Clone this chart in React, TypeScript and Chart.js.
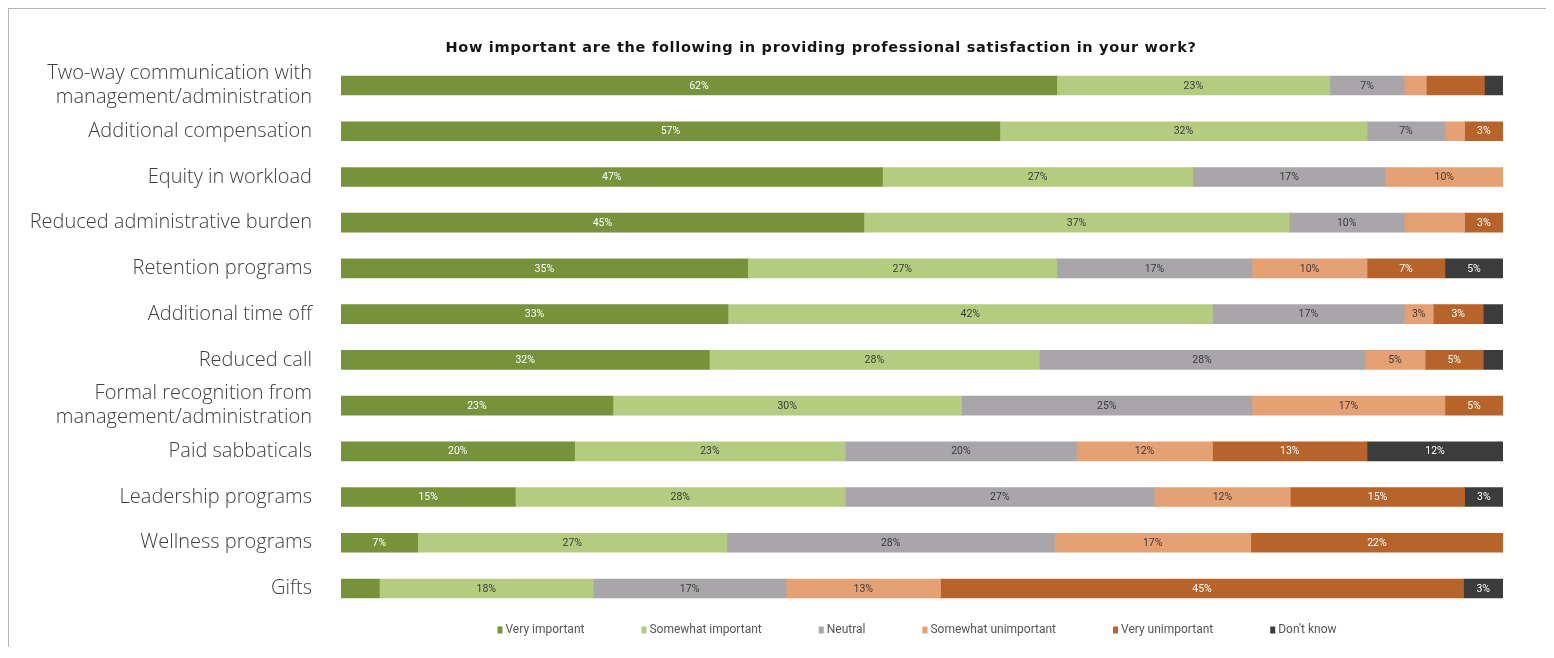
import React, { useEffect, useRef } from "react";
import { Chart, registerables } from "chart.js";

Chart.register(...registerables);

const chartTitle =
  "How important are the following in providing professional satisfaction in your work?";

const categories: (string | string[])[] = [
  ["Two-way communication with", "management/administration"],
  "Additional compensation",
  "Equity in workload",
  "Reduced administrative burden",
  "Retention programs",
  "Additional time off",
  "Reduced call",
  ["Formal recognition from", "management/administration"],
  "Paid sabbaticals",
  "Leadership programs",
  "Wellness programs",
  "Gifts",
];

const seriesNames = [
  "Very important",
  "Somewhat important",
  "Neutral",
  "Somewhat unimportant",
  "Very unimportant",
  "Don't know",
];

const seriesColors = ["#76933c", "#b4cc80", "#a8a6a9", "#e5a174", "#b6642b", "#3c3c3c"];
const labelColors = ["#ffffff", "#3a3a3a", "#3a3a3a", "#3a3a3a", "#ffffff", "#ffffff"];

// Bar widths (share of respondents, %)
const veryImportant = [61.6, 56.7, 46.6, 45.0, 35.0, 33.3, 31.7, 23.4, 20.1, 15.0, 6.6, 3.3];
const somewhatImportant = [23.5, 31.6, 26.7, 36.6, 26.6, 41.7, 28.4, 30.0, 23.3, 28.4, 26.6, 18.4];
const neutral = [6.4, 6.7, 16.6, 9.9, 16.8, 16.5, 28.0, 25.0, 19.9, 26.6, 28.2, 16.6];
const somewhatUnimportant = [1.9, 1.7, 10.1, 5.2, 9.9, 2.5, 5.2, 16.6, 11.7, 11.7, 16.9, 13.3];
const veryUnimportant = [5.0, 3.3, 0, 3.3, 6.7, 4.3, 5.0, 5.0, 13.3, 15.0, 21.7, 45.0];
const dontKnow = [1.7, 0, 0, 0, 5.0, 1.7, 1.7, 0, 11.7, 3.3, 0, 3.4];

// Printed labels as they appear on the bars ("" = no label)
const veryImportantLabels = ["62", "57", "47", "45", "35", "33", "32", "23", "20", "15", "7", ""];
const somewhatImportantLabels = ["23", "32", "27", "37", "27", "42", "28", "30", "23", "28", "27", "18"];
const neutralLabels = ["7", "7", "17", "10", "17", "17", "28", "25", "20", "27", "28", "17"];
const somewhatUnimportantLabels = ["", "", "10", "", "10", "3", "5", "17", "12", "12", "17", "13"];
const veryUnimportantLabels = ["", "3", "", "3", "7", "3", "5", "5", "13", "15", "22", "45"];
const dontKnowLabels = ["", "", "", "", "5", "", "", "", "12", "3", "", "3"];

const seriesValues = [veryImportant, somewhatImportant, neutral, somewhatUnimportant, veryUnimportant, dontKnow];
const seriesLabels = [
  veryImportantLabels,
  somewhatImportantLabels,
  neutralLabels,
  somewhatUnimportantLabels,
  veryUnimportantLabels,
  dontKnowLabels,
];

const barLabelPlugin = {
  id: "barLabels",
  afterDatasetsDraw(chart: any) {
    const ctx = chart.ctx;
    ctx.save();
    ctx.font = '10.5px "Roboto", sans-serif';
    ctx.textAlign = "center";
    ctx.textBaseline = "middle";
    chart.data.datasets.forEach((ds: any, i: number) => {
      const meta = chart.getDatasetMeta(i);
      meta.data.forEach((bar: any, j: number) => {
        const txt = ds.pctLabels[j];
        if (!txt) return;
        const p = bar.getProps(["x", "y", "base"], true);
        ctx.fillStyle = ds.labelColor;
        ctx.fillText(txt + "%", (p.x + p.base) / 2, p.y + 0.5);
      });
    });
    ctx.restore();
  },
};

const titlePlugin = {
  id: "customTitle",
  afterDraw(chart: any) {
    const ctx = chart.ctx;
    ctx.save();
    ctx.font = 'bold 14.5px "DejaVu Sans", sans-serif';
    (ctx as any).letterSpacing = "0.7px";
    ctx.fillStyle = "#151515";
    ctx.textAlign = "center";
    ctx.textBaseline = "middle";
    ctx.fillText(chartTitle, 812, 39);
    ctx.restore();
  },
};

const legendPlugin = {
  id: "customLegend",
  afterDraw(chart: any) {
    const ctx = chart.ctx;
    const area = chart.chartArea;
    ctx.save();
    ctx.font = '12px "Roboto", sans-serif';
    ctx.textBaseline = "middle";
    const boxW = 5;
    const boxH = 7;
    const boxGap = 3;
    const itemGap = 57;
    const items = chart.data.datasets.map((ds: any) => ({
      text: ds.label,
      color: ds.backgroundColor,
      w: boxW + boxGap + ctx.measureText(ds.label).width,
    }));
    const total = items.reduce((s: number, it: any) => s + it.w, 0) + itemGap * (items.length - 1);
    let x = (area.left + area.right) / 2 - 5 - total / 2;
    const y = 621;
    items.forEach((it: any) => {
      ctx.fillStyle = it.color;
      ctx.fillRect(x, y - boxH / 2, boxW, boxH);
      ctx.fillStyle = "#555555";
      ctx.textAlign = "left";
      ctx.fillText(it.text, x + boxW + boxGap, y);
      x += it.w + itemGap;
    });
    ctx.restore();
  },
};

export default function App() {
  const canvasRef = useRef<HTMLCanvasElement | null>(null);

  useEffect(() => {
    if (!canvasRef.current) return;
    const chart = new Chart(canvasRef.current, {
      type: "bar",
      data: {
        labels: categories,
        datasets: seriesNames.map((name, i) => ({
          label: name,
          data: seriesValues[i],
          backgroundColor: seriesColors[i],
          borderWidth: 0,
          barThickness: 19,
          pctLabels: seriesLabels[i],
          labelColor: labelColors[i],
        })) as any,
      },
      options: {
        indexAxis: "y",
        responsive: false,
        maintainAspectRatio: false,
        animation: false,
        layout: { padding: { top: 53.65, bottom: 35.65, left: 0, right: 44 } },
        scales: {
          x: { stacked: true, min: 0, max: 100, display: false },
          y: {
            stacked: true,
            grid: { display: false, drawTicks: false },
            border: { display: false },
            ticks: {
              autoSkip: false,
              padding: 29,
              color: "#404040",
              font: { family: '"Open Sans", sans-serif', size: 20, weight: "300", lineHeight: 1.2 },
            },
            afterFit: (scale: any) => {
              scale.width = 332;
              scale.paddingTop = 0;
              scale.paddingBottom = 0;
            },
          },
        },
        plugins: {
          legend: { display: false },
          title: { display: false },
          tooltip: { enabled: false },
        },
      },
      plugins: [barLabelPlugin, titlePlugin, legendPlugin],
    });
    return () => chart.destroy();
  }, []);

  return (
    <div
      style={{
        marginTop: -1,
        marginLeft: -1,
        width: 1540,
        height: 640,
        boxSizing: "border-box",
        borderTop: "2px solid #b5b5b5",
        borderLeft: "2px solid #b5b5b5",
      }}
    >
      <canvas ref={canvasRef} width={1538} height={638} style={{ display: "block" }} />
    </div>
  );
}
